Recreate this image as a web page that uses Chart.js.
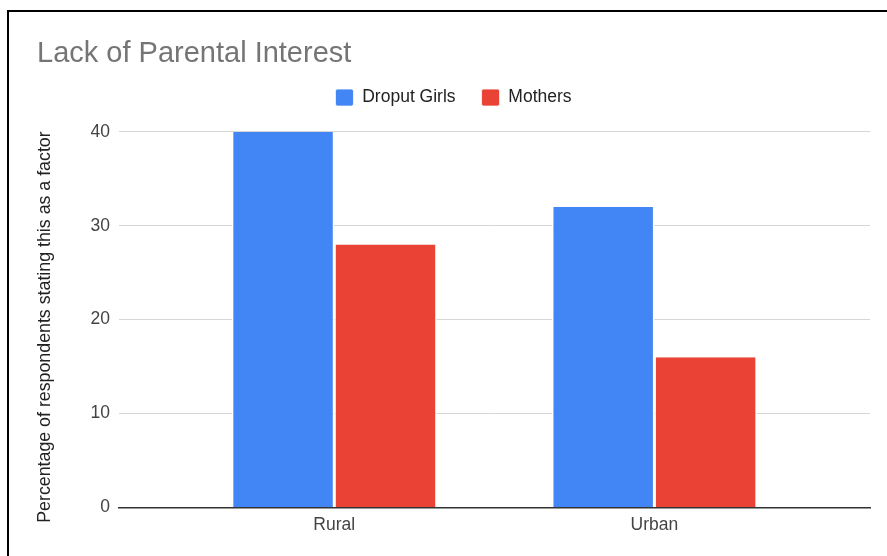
<!DOCTYPE html>
<html>
<head>
<meta charset="utf-8">
<script src="https://cdn.jsdelivr.net/npm/chart.js@4/dist/chart.umd.min.js"></script>
<style>
  html, body { margin: 0; padding: 0; background: #fff; overflow: hidden; }
  #frame { position: absolute; left: 7px; top: 10px; width: 920px; height: 600px; border: 2px solid #000; }
  #wrap { position: absolute; left: 0; top: 0; width: 887px; height: 556px; }
</style>
</head>
<body>
<div id="frame"></div>
<div id="wrap"><canvas id="myChart" width="887" height="556"></canvas></div>
<script>
// data
var categories = ["Rural", "Urban"];
var droputGirls = [40, 32];
var mothers = [28, 16];
var yTicks = [0, 10, 20, 30, 40];

function toPoints(values) {
  return values.map(function (v, i) { return { x: i, y: v }; });
}

Chart.defaults.font.family = "'Liberation Sans', Arial, sans-serif";
Chart.defaults.color = "#444";

// leave some room between the legend and the plot
var legendGap = {
  id: "legendGap",
  beforeInit: function (chart) {
    var fit = chart.legend.fit;
    chart.legend.fit = function () {
      fit.call(this);
      this.height += 15.5;
    };
  },
};

var ctx = document.getElementById("myChart").getContext("2d");
var chart = new Chart(ctx, {
  type: "bar",
  data: {
    datasets: [
      {
        label: "Droput Girls",
        data: toPoints(droputGirls),
        backgroundColor: "#4285F4",
        borderColor: "#ffffff",
        borderWidth: { left: 1.5, right: 1.5, top: 0, bottom: 0 },
        borderSkipped: false,
      },
      {
        label: "Mothers",
        data: toPoints(mothers),
        backgroundColor: "#EA4335",
        borderColor: "#ffffff",
        borderWidth: { left: 1.5, right: 1.5, top: 0, bottom: 0 },
        borderSkipped: false,
      },
    ],
  },
  plugins: [legendGap],
  options: {
    responsive: false,
    animation: false,
    categoryPercentage: 0.64,
    barPercentage: 1,
    layout: { padding: { left: 37, right: 17, top: 20, bottom: 0 } },
    plugins: {
      title: {
        display: true,
        text: "Lack of Parental Interest",
        align: "start",
        color: "#757575",
        font: { size: 29, weight: "normal" },
        padding: { top: 17, bottom: -9 },
      },
      legend: {
        display: true,
        position: "top",
        labels: {
          color: "#222",
          font: { size: 17.5 },
          boxWidth: 18,
          boxHeight: 17,
          useBorderRadius: true,
          borderRadius: 2,
          padding: 26,
        },
      },
      tooltip: { enabled: false },
    },
    scales: {
      x: {
        type: "linear",
        offset: false,
        min: -0.6725,
        max: 1.6735,
        afterBuildTicks: function (scale) {
          scale.ticks = categories.map(function (c, i) { return { value: i }; });
        },
        afterFit: function (scale) { scale.height = 48.5; },
        ticks: {
          color: "#444",
          font: { size: 17.5 },
          padding: 7,
          callback: function (value) { return categories[value]; },
        },
        grid: { display: false, drawTicks: false },
        border: { display: true, color: "#333", width: 1.5 },
      },
      y: {
        min: 0,
        max: 40,
        afterBuildTicks: function (scale) {
          scale.ticks = yTicks.map(function (v) { return { value: v }; });
        },
        afterFit: function (scale) { scale.width = 82; },
        ticks: { color: "#444", font: { size: 17.5 }, padding: 9 },
        grid: { color: "#d6d6d6", lineWidth: 1, drawTicks: false },
        border: { display: false },
        title: {
          display: true,
          text: "Percentage of respondents stating this as a factor   ",
          color: "#222",
          font: { size: 17.8 },
          padding: { top: -3, bottom: 0 },
        },
      },
    },
  },
});
</script>
</body>
</html>
